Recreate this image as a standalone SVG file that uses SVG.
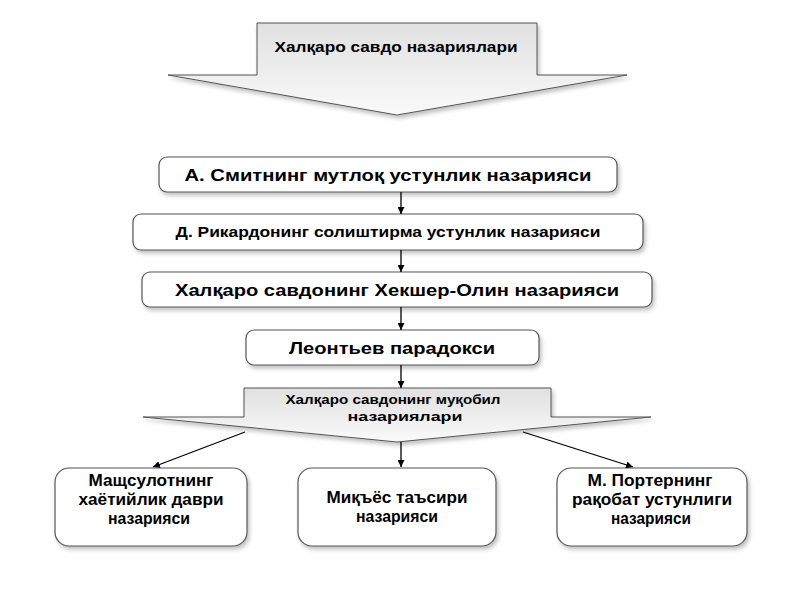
<svg xmlns="http://www.w3.org/2000/svg" width="800" height="600" viewBox="0 0 800 600">
<defs>
<linearGradient id="g" x1="0" y1="0" x2="0" y2="1">
<stop offset="0" stop-color="#e0e0e0"/>
<stop offset="1" stop-color="#fafafa"/>
</linearGradient>
<filter id="sh" x="-10%" y="-20%" width="130%" height="150%">
<feGaussianBlur in="SourceAlpha" stdDeviation="2"/>
<feOffset dx="2" dy="3" result="b"/>
<feComponentTransfer><feFuncA type="linear" slope="0.25"/></feComponentTransfer>
<feMerge><feMergeNode/><feMergeNode in="SourceGraphic"/></feMerge>
</filter>
<marker id="ah" viewBox="0 0 10 10" refX="10" refY="5" markerWidth="7" markerHeight="7" markerUnits="userSpaceOnUse" orient="auto">
<path d="M0,0 L10,5 L0,10 z" fill="#000"/>
</marker>
</defs>
<style>
.bigarrow{fill:url(#g);stroke:#555;stroke-width:1;filter:url(#sh)}
.box{fill:#fff;stroke:#555;stroke-width:1.2;filter:url(#sh)}
.t{font-family:"Liberation Sans",Arial,sans-serif;font-weight:bold;fill:#000;text-anchor:middle}
.b{font-size:16.5px}
.c{stroke:#000;stroke-width:1.3;fill:none;marker-end:url(#ah)}
</style>
<rect width="800" height="600" fill="#fff"/>

<g id="top-arrow">
<path class="bigarrow" d="M257,23 L537,23 L537,75 L627,75 L397,115 L168,75 L257,75 Z"/>
<text class="t" x="396" y="52" font-size="15" textLength="243" lengthAdjust="spacingAndGlyphs">Халқаро савдо назариялари</text>
</g>

<g id="smith">
<rect class="box" x="159" y="157" width="458" height="35" rx="8"/>
<text class="t" x="388" y="181" font-size="17" textLength="407" lengthAdjust="spacingAndGlyphs">А. Смитнинг мутлоқ устунлик назарияси</text>
</g>

<g id="ricardo">
<rect class="box" x="133" y="214" width="510" height="36" rx="8"/>
<text class="t" x="388" y="237" font-size="14.5" textLength="425" lengthAdjust="spacingAndGlyphs">Д. Рикардонинг солиштирма устунлик назарияси</text>
</g>

<g id="heckscher">
<rect class="box" x="142" y="272" width="510" height="35" rx="8"/>
<text class="t" x="397" y="296" font-size="17" textLength="444" lengthAdjust="spacingAndGlyphs">Халқаро савдонинг Хекшер-Олин назарияси</text>
</g>

<g id="leontief">
<rect class="box" x="246" y="330" width="293" height="35" rx="8"/>
<text class="t" x="392" y="354" font-size="16" textLength="206" lengthAdjust="spacingAndGlyphs">Леонтьев парадокси</text>
</g>

<g id="alt-arrow">
<path class="bigarrow" d="M244,388 L551,388 L551,417 L651,417 L397,442 L143,417 L244,417 Z"/>
<text class="t" x="393" y="404" font-size="13.5" textLength="215" lengthAdjust="spacingAndGlyphs">Халқаро савдонинг муқобил</text>
<text class="t" x="405" y="421" font-size="13.5" textLength="115" lengthAdjust="spacingAndGlyphs">назариялари</text>
</g>

<g id="product-life">
<rect class="box" x="55" y="468" width="192" height="78" rx="14"/>
<text class="t b" x="151" y="486" textLength="125" lengthAdjust="spacingAndGlyphs">Мащсулотнинг</text>
<text class="t b" x="151" y="505" textLength="145" lengthAdjust="spacingAndGlyphs">хаётийлик даври</text>
<text class="t b" x="149" y="524" textLength="82" lengthAdjust="spacingAndGlyphs">назарияси</text>
</g>

<g id="scale-effect">
<rect class="box" x="298" y="468" width="198" height="78" rx="14"/>
<text class="t b" x="397" y="503" textLength="141" lengthAdjust="spacingAndGlyphs">Миқъёс таъсири</text>
<text class="t b" x="397" y="522" textLength="82" lengthAdjust="spacingAndGlyphs">назарияси</text>
</g>

<g id="porter">
<rect class="box" x="557" y="468" width="190" height="78" rx="14"/>
<text class="t b" x="650" y="486" textLength="125" lengthAdjust="spacingAndGlyphs">М. Портернинг</text>
<text class="t b" x="652" y="505" textLength="160" lengthAdjust="spacingAndGlyphs">рақобат устунлиги</text>
<text class="t b" x="651" y="524" textLength="80" lengthAdjust="spacingAndGlyphs">назарияси</text>
</g>

<g id="connectors">
<line class="c" x1="401" y1="192" x2="401" y2="214"/>
<line class="c" x1="401" y1="250" x2="401" y2="272"/>
<line class="c" x1="401" y1="307" x2="401" y2="330"/>
<line class="c" x1="401" y1="365" x2="401" y2="388"/>
<line class="c" x1="401" y1="442" x2="401" y2="467"/>
<line class="c" x1="245" y1="432" x2="153" y2="467"/>
<line class="c" x1="523" y1="432" x2="633" y2="467"/>
</g>
</svg>
